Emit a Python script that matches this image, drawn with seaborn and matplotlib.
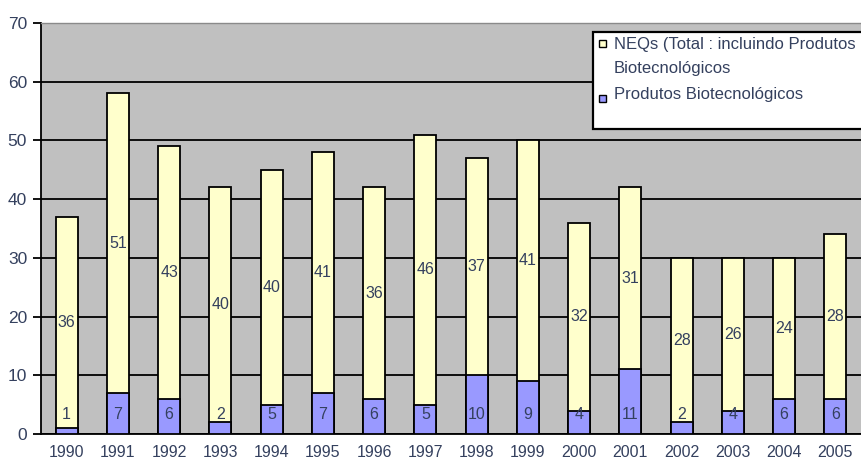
import matplotlib
matplotlib.use("Agg")
import matplotlib.pyplot as plt
import seaborn as sns
import pandas as pd
import numpy as np
from matplotlib.patches import Rectangle

# Novas entidades químicas aprovadas por ano
anos = [str(a) for a in range(1990, 2006)]
produtos_biotec = [1, 7, 6, 2, 5, 7, 6, 5, 10, 9, 4, 11, 2, 4, 6, 6]
outros_neqs = [36, 51, 43, 40, 40, 41, 36, 46, 37, 41, 32, 31, 28, 26, 24, 28]
total_neqs = [b + o for b, o in zip(produtos_biotec, outros_neqs)]

legenda = ["NEQs (Total : incluindo Produtos", "Biotecnológicos", "Produtos Biotecnológicos"]

AMARELO = "#FFFFCC"
AZUL = "#9999FF"
CINZA = "#C0C0C0"
TEXTO = "#34405e"

sns.set_style("white")
plt.rcParams["font.family"] = ["Liberation Sans", "DejaVu Sans"]

df = pd.DataFrame({"ano": anos, "total": total_neqs, "bio": produtos_biotec, "outros": outros_neqs})

W, H = 861, 465
fig = plt.figure(figsize=(W / 100, H / 100), dpi=100)
ax = fig.add_axes([41 / W, 31 / H, 1 - 41 / W, (434 - 23) / H])
ax.set_facecolor(CINZA)

# barras totais (amarelas) com os produtos biotecnológicos (azuis) à frente
sns.barplot(data=df, x="ano", y="total", color=AMARELO, saturation=1, width=0.43,
            edgecolor="black", linewidth=1.3, ax=ax, zorder=3)
sns.barplot(data=df, x="ano", y="bio", color=AZUL, saturation=1, width=0.43,
            edgecolor="black", linewidth=1.3, ax=ax, zorder=4)

for i, (b, o) in enumerate(zip(produtos_biotec, outros_neqs)):
    ax.text(i, b + o / 2, str(o), ha="center", va="center", fontsize=11.5, color=TEXTO, zorder=5)
    ax.text(i, 3.3, str(b), ha="center", va="center", fontsize=11.5, color=TEXTO, zorder=5)

ax.set_ylim(0, 70)
ax.set_yticks(np.arange(0, 71, 10))
ax.set_xlim(-0.5, (W - 41) / 52 - 0.5)
ax.set_xticks(range(len(anos)))
ax.set_xticklabels(anos)
ax.set_xticks(np.arange(-0.5, len(anos), 1), minor=True)
ax.tick_params(axis="x", which="major", length=0, pad=8, labelsize=11.5, labelcolor=TEXTO)
ax.tick_params(axis="x", which="minor", length=6, width=1.3, color="black", direction="out")
ax.tick_params(axis="y", length=6, width=1.3, color="black", direction="out", pad=4,
               labelsize=12.5, labelcolor=TEXTO, left=True)
ax.set_xlabel("")
ax.set_ylabel("")

ax.grid(axis="y", color="black", linewidth=1.3, zorder=1)
ax.grid(axis="x", visible=False)
ax.set_axisbelow(True)

for lado in ["left", "bottom"]:
    ax.spines[lado].set_color("black")
    ax.spines[lado].set_linewidth(1.3)
ax.spines["top"].set_color("#8a8a8a")
ax.spines["top"].set_linewidth(1.0)
ax.spines["right"].set_visible(False)

# legenda em caixa no canto superior direito
def fx(px):
    return px / W

def fy(py):
    return 1 - py / H

fig.patches.append(Rectangle((fx(593), fy(129)), fx(300), (129 - 32) / H, transform=fig.transFigure,
                             facecolor="white", edgecolor="black", linewidth=1.6, zorder=10))
fig.patches.append(Rectangle((fx(599), fy(47.5)), fx(7), 7 / H, transform=fig.transFigure,
                             facecolor=AMARELO, edgecolor="black", linewidth=1.0, zorder=11))
fig.patches.append(Rectangle((fx(599), fy(102.5)), fx(7), 7 / H, transform=fig.transFigure,
                             facecolor=AZUL, edgecolor="black", linewidth=1.0, zorder=11))
fig.text(fx(614), fy(44), legenda[0], ha="left", va="center", fontsize=12, color=TEXTO, zorder=12)
fig.text(fx(614), fy(68), legenda[1], ha="left", va="center", fontsize=12, color=TEXTO, zorder=12)
fig.text(fx(614), fy(94), legenda[2], ha="left", va="center", fontsize=12, color=TEXTO, zorder=12)

fig.savefig("out.png", dpi=100)
